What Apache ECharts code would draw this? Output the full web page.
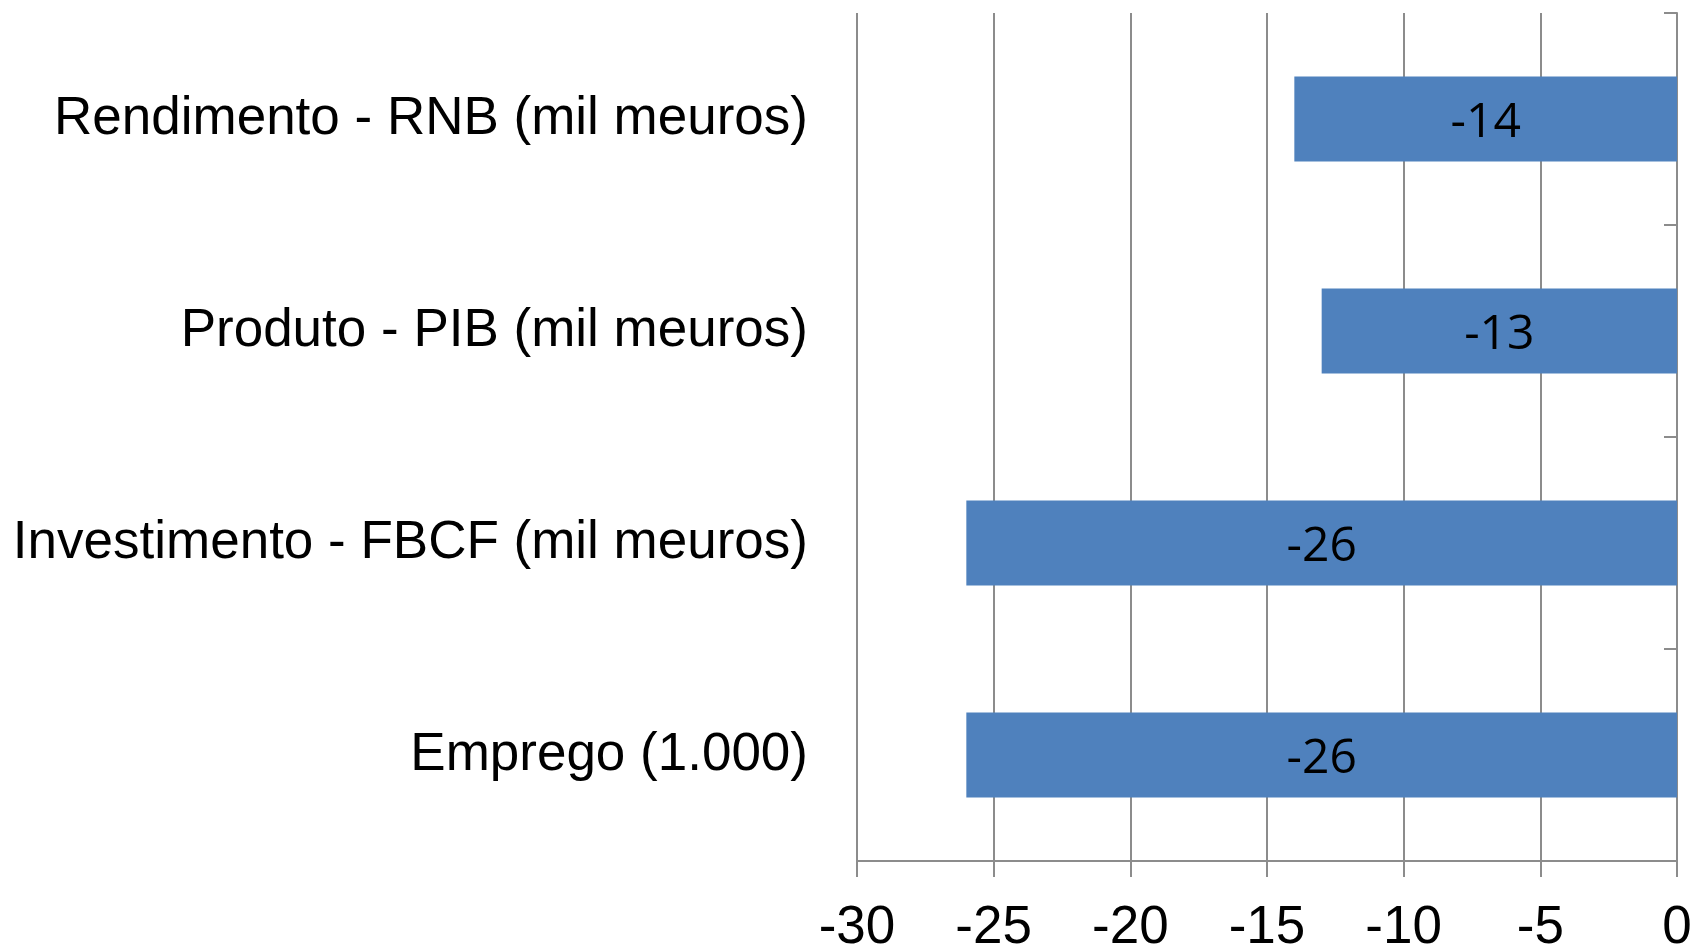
<!DOCTYPE html>
<html>
<head>
<meta charset="utf-8">
<script src="https://cdn.jsdelivr.net/npm/echarts@6/dist/echarts.min.js"></script>
<style>
  html, body { margin: 0; padding: 0; background: #fff; }
  #chart { width: 1694px; height: 945px; }
</style>
</head>
<body>
<div id="chart"></div>
<script>
// Categories listed top to bottom
const categories = [
  'Rendimento - RNB (mil meuros)',
  'Produto - PIB (mil meuros)',
  'Investimento - FBCF (mil meuros)',
  'Emprego (1.000)'
];
const values = [-14, -13, -26, -26];
const axisMin = -30;
const axisMax = 0;
const axisStep = 5;

const chart = echarts.init(document.getElementById('chart'), null, { renderer: 'canvas' });
chart.setOption({
  animation: false,
  backgroundColor: '#ffffff',
  grid: { left: 857, right: 17, top: 13, bottom: 84, containLabel: false, outerBoundsMode: 'none' },
  xAxis: {
    type: 'value',
    min: axisMin,
    max: axisMax,
    interval: axisStep,
    axisLine: { show: true, onZero: false, lineStyle: { color: '#8c8c8c', width: 2 } },
    axisTick: { show: true, length: 16, lineStyle: { color: '#8c8c8c', width: 2 } },
    splitLine: { show: true, lineStyle: { color: '#8c8c8c', width: 2 } },
    axisLabel: {
      margin: 41,
      color: '#000',
      fontFamily: 'Liberation Sans, Arial, sans-serif',
      fontSize: 53
    }
  },
  yAxis: [
    {
      type: 'category',
      data: categories,
      inverse: true,
      position: 'left',
      axisLine: { show: false },
      axisTick: { show: false },
      splitLine: { show: false },
      axisLabel: {
        margin: 49,
        color: '#000',
        fontFamily: 'Liberation Sans, Arial, sans-serif',
        fontSize: 53
      }
    },
    {
      type: 'category',
      data: categories,
      inverse: true,
      position: 'right',
      axisLine: { show: true, onZero: false, lineStyle: { color: '#8c8c8c', width: 2 } },
      axisTick: { show: true, inside: true, length: 13, lineStyle: { color: '#8c8c8c', width: 2 } },
      axisLabel: { show: false },
      splitLine: { show: false }
    }
  ],
  series: [{
    type: 'bar',
    yAxisIndex: 0,
    data: values,
    barCategoryGap: '60%',
    itemStyle: { color: '#4F81BD' },
    label: {
      show: true,
      position: 'inside',
      offset: [0, 4],
      color: '#000',
      fontFamily: 'Open Sans, Noto Sans, sans-serif',
      fontSize: 48
    }
  }]
});
</script>
</body>
</html>
